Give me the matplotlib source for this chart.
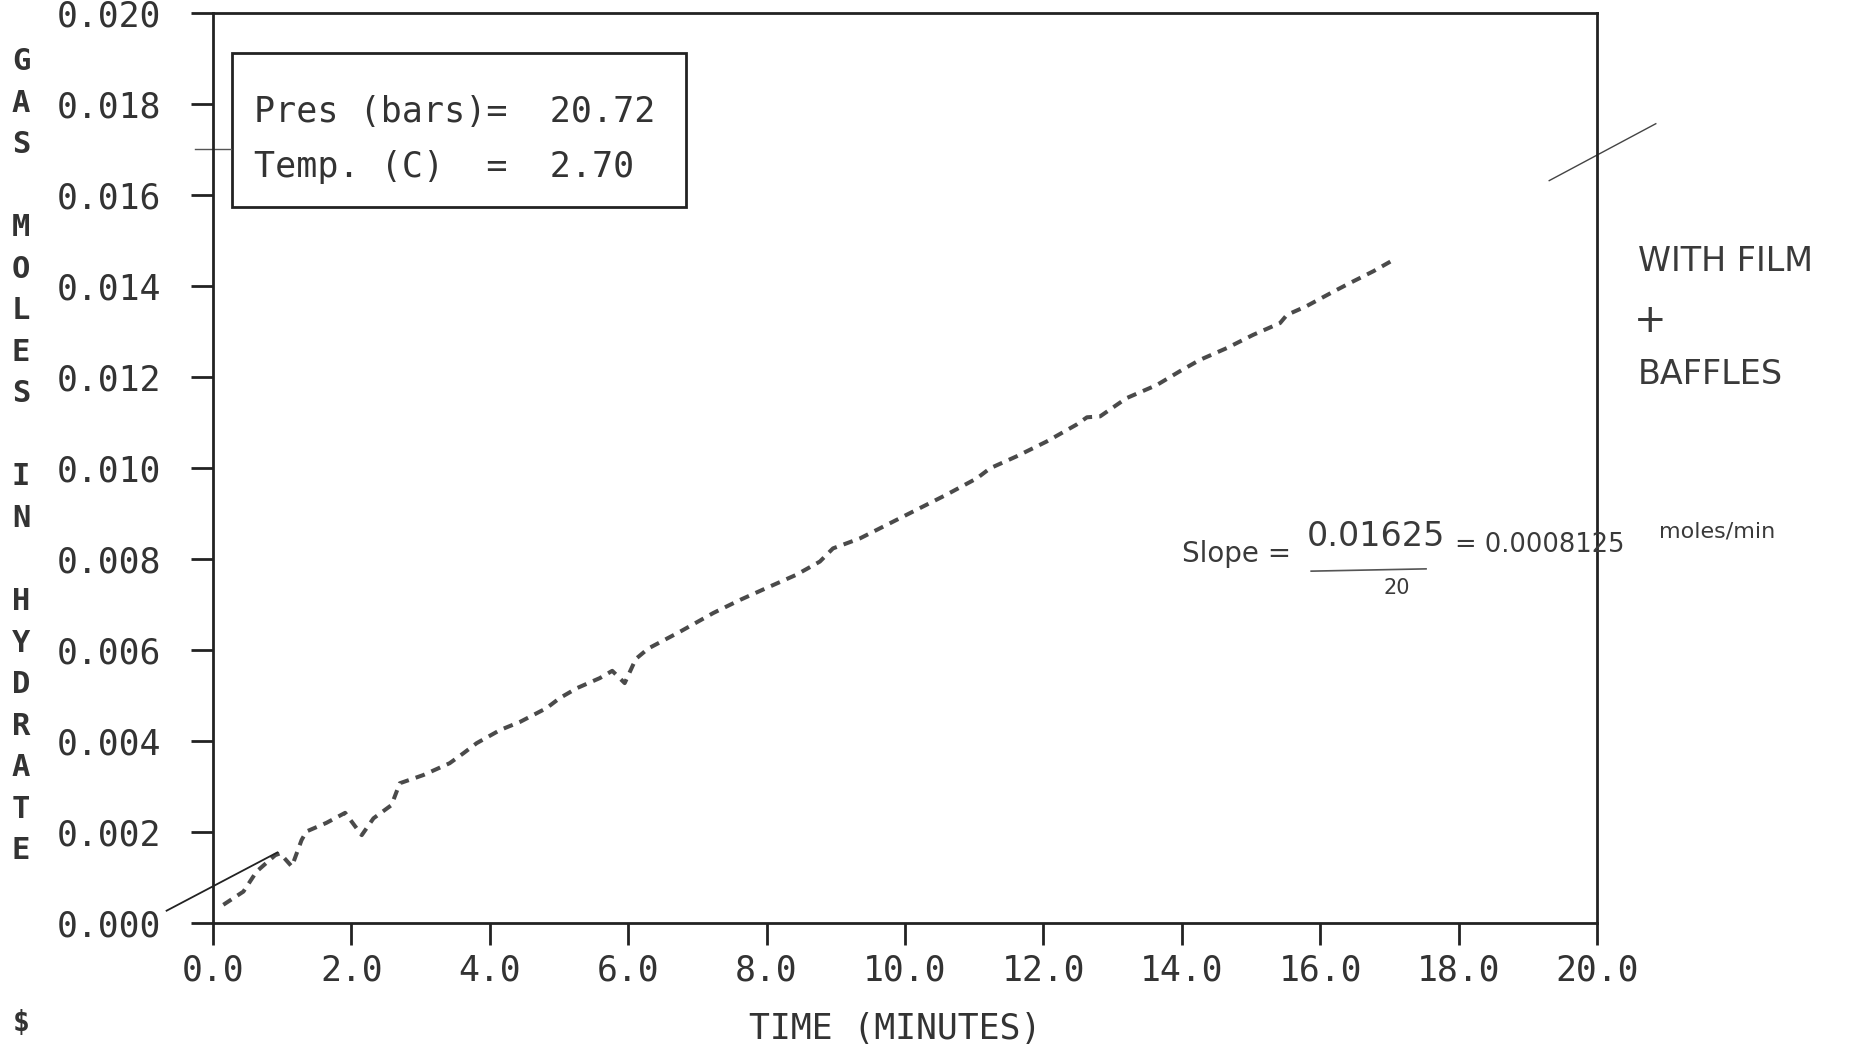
import numpy as np
import matplotlib
matplotlib.use("Agg")
import matplotlib.pyplot as plt
from matplotlib.patches import Rectangle

# time (minutes) and gas moles in hydrate
time_min = [0.15, 0.44, 0.63, 0.90, 0.97, 1.14, 1.28, 1.35, 1.64, 1.91,
            2.15, 2.32, 2.58, 2.70, 3.04, 3.42, 3.62, 3.81, 4.15, 4.44,
            4.82, 5.01, 5.26, 5.59, 5.77, 5.95, 6.11, 6.29, 6.75, 7.23,
            7.62, 8.00, 8.43, 8.77, 8.96, 9.35, 9.78, 10.17, 10.60, 11.04,
            11.23, 11.61, 12.05, 12.48, 12.63, 12.82, 13.20, 13.64, 13.97, 14.26,
            14.65, 15.03, 15.42, 15.52, 15.80, 16.19, 16.43, 16.77, 17.06]
gas_moles = [0.00040, 0.00069, 0.00113, 0.00149, 0.00153, 0.00124, 0.00182, 0.00201, 0.00220, 0.00242,
             0.00193, 0.00230, 0.00259, 0.00307, 0.00325, 0.00351, 0.00373, 0.00395, 0.00424, 0.00442,
             0.00472, 0.00494, 0.00516, 0.00538, 0.00554, 0.00527, 0.00580, 0.00603, 0.00640, 0.00681,
             0.00710, 0.00736, 0.00765, 0.00794, 0.00823, 0.00845, 0.00878, 0.00908, 0.00941, 0.00977,
             0.00999, 0.01025, 0.01058, 0.01095, 0.01111, 0.01113, 0.01153, 0.01182, 0.01212, 0.01237,
             0.01263, 0.01292, 0.01318, 0.01336, 0.01355, 0.01387, 0.01406, 0.01432, 0.01457]

# hand drawn slope line (two pieces)
tan_low_x = [-0.67, 0.93]
tan_low_y = [0.00027, 0.00155]
tan_high_x = [19.31, 20.85]
tan_high_y = [0.01631, 0.01756]

xticks = np.arange(0, 20.1, 2.0)
yticks = np.arange(0, 0.0201, 0.002)

ink = '#333333'
mono = 'DejaVu Sans Mono'

fig = plt.figure(figsize=(18.55, 10.46), dpi=100)
ax = fig.add_axes([0.1148, 0.1176, 0.7461, 0.8703])

ax.plot(time_min, gas_moles, color='#4a4a4a', lw=2.9, dashes=(2.4, 1.8))
ax.plot(tan_low_x, tan_low_y, color='#222222', lw=1.3, clip_on=False)
ax.plot(tan_high_x, tan_high_y, color='#444444', lw=1.0, clip_on=False)
# small pen mark across the y axis
ax.plot([-0.26, 0.26], [0.0170, 0.0170], color='#555555', lw=1.0, clip_on=False)

ax.set_xlim(0, 20)
ax.set_ylim(0, 0.020)
ax.set_xticks(xticks)
ax.set_yticks(yticks)
ax.set_xticklabels(['%.1f' % v for v in xticks])
ax.set_yticklabels(['%.3f' % v for v in yticks])
for s in ax.spines.values():
    s.set_linewidth(2.0)
    s.set_color('#222222')
ax.tick_params(direction='out', length=16, width=2.0, color='#222222',
               labelsize=25, labelcolor=ink)
ax.tick_params(axis='y', pad=21)
ax.tick_params(axis='x', pad=6)
for lab in ax.get_xticklabels() + ax.get_yticklabels():
    lab.set_family(mono)

ax.set_xlabel('TIME (MINUTES)', family=mono, fontsize=25, color=ink)
ax.xaxis.set_label_coords(0.4932, -0.098)

# stacked y label
letters = list('GAS MOLES IN HYDRATE')
for i, ch in enumerate(letters):
    if ch != ' ':
        fig.text(0.0113, 0.941 - i * 0.0397, ch, family=mono, fontsize=22,
                 color=ink, ha='center', va='center', fontweight='bold')
fig.text(0.0113, 0.022, '$', family=mono, fontsize=20, color=ink,
         ha='center', va='center', fontweight='bold')

# info box
ax.add_patch(Rectangle((0.0137, 0.787), 0.328, 0.169, transform=ax.transAxes,
                       fill=False, lw=2.0, ec='#222222'))
ax.text(0.0296, 0.8905, 'Pres (bars)=  20.72', transform=ax.transAxes,
        family=mono, fontsize=25.2, color=ink, va='center')
ax.text(0.0296, 0.831, 'Temp. (C)  =  2.70', transform=ax.transAxes,
        family=mono, fontsize=25.2, color=ink, va='center')

# handwritten notes
hand = dict(color='#3a3a3a', family='DejaVu Sans', clip_on=False)
fig.text(0.883, 0.741, 'WITH FILM', fontsize=24, **hand)
fig.text(0.881, 0.683, '+', fontsize=28, **hand)
fig.text(0.883, 0.633, 'BAFFLES', fontsize=24, **hand)

ax.text(14.0, 0.0081, 'Slope =', fontsize=20, va='center', **hand)
ax.text(15.8, 0.0085, '0.01625', fontsize=24, va='center', **hand)
ax.plot([15.87, 17.53], [0.00773, 0.00778], color='#555555', lw=1.2, clip_on=False)
ax.text(17.1, 0.00735, '20', fontsize=15, va='center', ha='center', **hand)
ax.text(17.95, 0.0083, '= 0.0008125', fontsize=18.5, va='center', **hand)
ax.text(20.9, 0.0086, 'moles/min', fontsize=16, va='center', **hand)

fig.savefig('out.png', dpi=100)
